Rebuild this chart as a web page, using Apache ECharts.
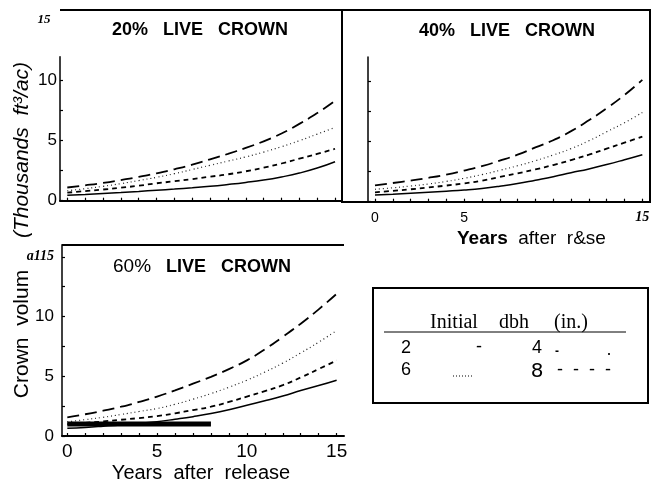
<!DOCTYPE html>
<html><head><meta charset="utf-8">
<script src="https://cdn.jsdelivr.net/npm/echarts@6/dist/echarts.min.js"></script>
<style>html,body{margin:0;padding:0;background:#fff}#c{width:658px;height:484px}</style>
</head><body><div id="c"></div>
<script>
// ---- data ----
const years = [0,1,2,3,4,5,6,7,8,9,10,11,12,13,14,15];
// 20% live crown
const c20_dbh2 = [0.45,0.52,0.60,0.68,0.77,0.87,0.97,1.08,1.20,1.35,1.52,1.72,1.98,2.30,2.72,3.25];
const c20_dbh8 = [0.67,0.80,0.93,1.08,1.25,1.45,1.62,1.80,2.00,2.20,2.45,2.75,3.10,3.50,3.90,4.33];
const c20_dbh6 = [0.83,1.00,1.20,1.42,1.68,1.95,2.25,2.60,2.95,3.30,3.65,4.05,4.50,5.00,5.55,6.10];
const c20_dbh4 = [1.10,1.28,1.48,1.72,1.98,2.28,2.62,3.00,3.45,3.90,4.40,4.95,5.60,6.40,7.30,8.33];
// 40% live crown
const c40_dbh2 = [0.55,0.62,0.70,0.78,0.87,0.97,1.10,1.28,1.50,1.78,2.07,2.40,2.72,3.08,3.48,3.90];
const c40_dbh8 = [0.78,0.90,1.03,1.18,1.34,1.52,1.75,2.05,2.35,2.68,3.04,3.45,3.90,4.40,4.90,5.40];
const c40_dbh6 = [1.03,1.15,1.30,1.47,1.68,1.94,2.25,2.60,2.98,3.40,3.87,4.40,5.05,5.80,6.55,7.40];
const c40_dbh4 = [1.36,1.55,1.75,1.98,2.25,2.58,2.95,3.40,3.90,4.50,5.10,5.85,6.75,7.75,8.85,10.1];
// 60% live crown
const c60_dbh2 = [0.64,0.72,0.82,0.93,1.06,1.20,1.40,1.62,1.88,2.20,2.58,2.95,3.35,3.80,4.22,4.67];
const c60_dbh8 = [1.00,1.10,1.22,1.36,1.50,1.67,1.90,2.17,2.45,2.85,3.30,3.75,4.25,4.90,5.60,6.33];
const c60_dbh6 = [1.19,1.37,1.57,1.80,2.05,2.30,2.65,3.08,3.55,4.08,4.67,5.35,6.10,6.95,7.85,8.83];
const c60_dbh4 = [1.56,1.82,2.12,2.45,2.85,3.30,3.82,4.38,4.95,5.60,6.33,7.25,8.30,9.40,10.6,11.9];
const c60_barX = [0, 8];
const c60_barY = [1.0, 1.0];
// tick values / labels
const yTickVals = [0,2.5,5,7.5,10];
const yTickVals60 = [0,2.5,5,7.5,10,12.5,15];
const yLabelVals = [0,5,10];
const yLabels = ['0','5','10'];
const yLabelVals60 = [0,5,10,15];
const yLabels60 = ['0','5','10','{s|a115}'];
const xLabelVals40 = [0,5,15];
const xLabels40 = ['0','5','{s|15}'];
const xLabelVals60 = [0,5,10,15];
const xLabels60 = ['0','5','10','15'];

// ---- build ----
const pairs = (xs, ys) => xs.map((x,i) => [x, ys[i]]);
const styles = {
  dbh2: {type:'solid', width:1.5, color:'#000'},
  dbh8: {type:[5,4], width:1.8, color:'#000'},
  dbh6: {type:[1,3], width:1.2, color:'#222'},
  dbh4: {type:[12,6], width:1.8, color:'#000'}
};
const panels = [
  {grid:0, d:{dbh2:c20_dbh2, dbh8:c20_dbh8, dbh6:c20_dbh6, dbh4:c20_dbh4}},
  {grid:1, d:{dbh2:c40_dbh2, dbh8:c40_dbh8, dbh6:c40_dbh6, dbh4:c40_dbh4}},
  {grid:2, d:{dbh2:c60_dbh2, dbh8:c60_dbh8, dbh6:c60_dbh6, dbh4:c60_dbh4}}
];
const series = [];
panels.forEach(p => {
  Object.keys(p.d).forEach(k => {
    series.push({
      type:'line', name:k, xAxisIndex:p.grid, yAxisIndex:p.grid,
      data:pairs(years, p.d[k]), showSymbol:false, symbol:'none', smooth:true,
      lineStyle:styles[k], silent:true, animation:false
    });
  });
});
series.push({type:'line', name:'bar', xAxisIndex:2, yAxisIndex:2,
  data:pairs(c60_barX, c60_barY), showSymbol:false, symbol:'none',
  lineStyle:{color:'#000', width:5}, animation:false, silent:true});

const FONT = 'Liberation Sans';
const lab = (vals, texts) => (v) => {
  const i = vals.indexOf(v);
  return i < 0 ? '' : texts[i];
};
const richS = {s:{fontFamily:'Liberation Serif', fontStyle:'italic', fontWeight:'bold', fontSize:14, color:'#000'}};

function xAxis(g, min, max, labelVals, labelTexts, fs, margin) {
  return {
    type:'value', gridIndex:g, min:min, max:max,
    axisLine:{show:true, onZero:false, lineStyle:{color:'#000', width:2}},
    axisTick:{show:true, inside:true, length:3, customValues:years, lineStyle:{color:'#000', width:1.2}},
    axisLabel: labelVals ? {show:true, customValues:labelVals, formatter:lab(labelVals, labelTexts),
      fontFamily:FONT, fontSize:fs, color:'#000', margin:margin, rich:richS} : {show:false},
    splitLine:{show:false}
  };
}
function yAxis(g, max, tickVals, labelVals, labelTexts, margin) {
  return {
    type:'value', gridIndex:g, min:0, max:max,
    axisLine:{show:true, onZero:false, lineStyle:{color:'#000', width:1.5}},
    axisTick:{show:true, inside:true, length:3, customValues:tickVals, lineStyle:{color:'#000', width:1.2}},
    axisLabel: labelVals ? {show:true, customValues:labelVals, formatter:lab(labelVals, labelTexts),
      fontFamily:FONT, fontSize:17, color:'#000', margin:margin, rich:richS} : {show:false},
    splitLine:{show:false}
  };
}

const T = (x, y, text, font, extra) => Object.assign({type:'text', x:x, y:y, silent:true,
  style:Object.assign({text:text, font:font, fill:'#000', align:'center', verticalAlign:'middle'}, extra||{})});
const L = (x1,y1,x2,y2,w,dash) => ({type:'line', silent:true, shape:{x1,y1,x2,y2},
  style:{stroke:'#000', lineWidth:w, lineDash:dash||null}});

const option = {
  backgroundColor:'#fff',
  animation:false,
  grid:[
    {left:60, top:56.7, width:282, height:144, outerBoundsMode:'none', containLabel:false},
    {left:368, top:57, width:282, height:144.7, outerBoundsMode:'none', containLabel:false},
    {left:62, top:244.8, width:282, height:191.2, outerBoundsMode:'none', containLabel:false}
  ],
  xAxis:[
    xAxis(0, -0.409, 15.39, null),
    xAxis(1, -0.393, 15.43, xLabelVals40, xLabels40, 14, 9),
    xAxis(2, -0.295, 15.41, xLabelVals60, xLabels60, 19, 6)
  ],
  yAxis:[
    yAxis(0, 12, yTickVals, yLabelVals, yLabels, 3),
    yAxis(1, 12, yTickVals, null),
    yAxis(2, 16, yTickVals60, yLabelVals60, yLabels60, 8)
  ],
  series:series,
  graphic:[
    // frames
    L(60,10,342,10,2),
    {type:'rect', silent:true, shape:{x:342,y:10,width:308,height:192}, style:{fill:null, stroke:'#000', lineWidth:2}},
    L(62,245,344,245,2),
    // panel titles
    T(200,30,'20%   LIVE   CROWN','bold 18px "Liberation Sans"'),
    T(507,31,'40%   LIVE   CROWN','bold 18px "Liberation Sans"'),
    {type:'text', x:113, y:267, silent:true, style:{
      text:'{r|60%}{b|   LIVE   CROWN}', align:'left', verticalAlign:'middle',
      rich:{r:{fontFamily:FONT, fontSize:19, fill:'#000'}, b:{fontFamily:FONT, fontWeight:'bold', fontSize:18, fill:'#000'}}}},
    // stray top label
    T(44,20,'15','italic bold 13px "Liberation Serif"'),
    // y axis titles (rotated)
    {type:'text', x:22, y:150, rotation:Math.PI/2, silent:true, style:{
      text:'(Thousands  ft³/ac)', font:'italic 21px "Liberation Sans"', fill:'#000', align:'center', verticalAlign:'middle'}},
    {type:'text', x:22, y:334, rotation:Math.PI/2, silent:true, style:{
      text:'Crown  volum', font:'21px "Liberation Sans"', fill:'#000', align:'center', verticalAlign:'middle'}},
    // x axis titles
    {type:'text', x:457, y:239, silent:true, style:{
      text:'{b|Years}{r|  after  r&se}', align:'left', verticalAlign:'middle',
      rich:{b:{fontFamily:FONT, fontWeight:'bold', fontSize:19, fill:'#000'}, r:{fontFamily:FONT, fontSize:19, fill:'#000'}}}},
    T(201,473,'Years  after  release','20px "Liberation Sans"'),
    // legend box
    {type:'rect', silent:true, shape:{x:373,y:288,width:275,height:115}, style:{fill:null, stroke:'#000', lineWidth:2}},
    T(454,323,'Initial','20px "Liberation Serif"'),
    T(514,323,'dbh','20px "Liberation Serif"'),
    T(571,323,'(in.)','20px "Liberation Serif"'),
    L(384,332,626,332,1),
    T(406,348,'2','18px "Liberation Sans"'),
    T(479,347,'-','18px "Liberation Sans"'),
    T(537,348,'4','18px "Liberation Sans"'),
    T(557,352,'-','bold 12px "Liberation Sans"'),
    T(609,350,'.','18px "Liberation Sans"'),
    T(406,370,'6','18px "Liberation Sans"'),
    L(453,376,474,376,1.2,[1,2]),
    T(537,372,'8','20px "DejaVu Sans"'),
    T(584,370,'-  -  -  -','18px "Liberation Sans"')
  ]
};
const chart = echarts.init(document.getElementById('c'), null, {renderer:'canvas'});
chart.setOption(option);
</script>
</body></html>
